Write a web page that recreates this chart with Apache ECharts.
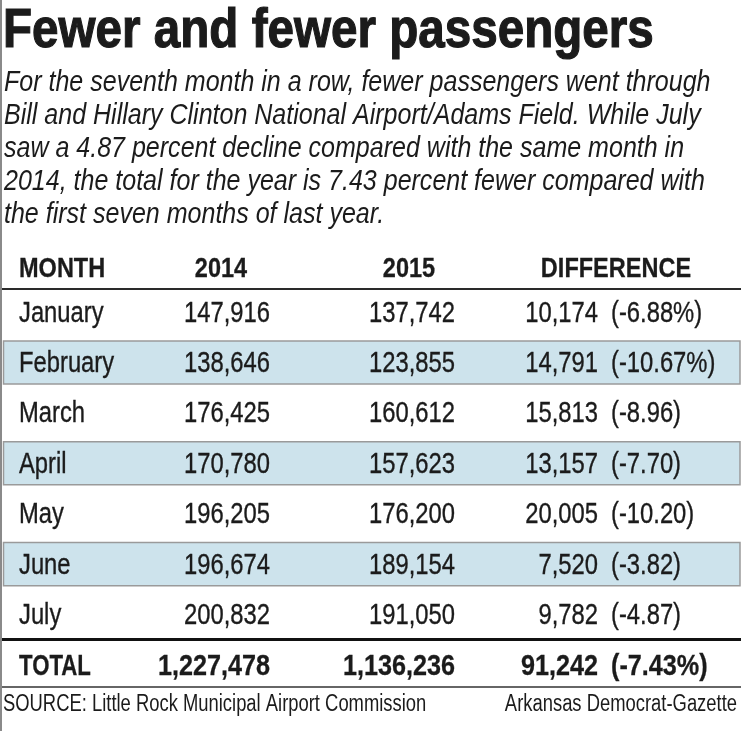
<!DOCTYPE html>
<html>
<head>
<meta charset="utf-8">
<script src="https://cdn.jsdelivr.net/npm/echarts@6/dist/echarts.min.js"></script>
<style>html,body{margin:0;padding:0;background:#fff}#c{width:751px;height:731px}</style>
</head>
<body>
<div id="c"></div>
<script>
// ---- data ----
var titleText = 'Fewer and fewer passengers';
var subtitleLines = [
  'For the seventh month in a row, fewer passengers went through',
  'Bill and Hillary Clinton National Airport/Adams Field. While July',
  'saw a 4.87 percent decline compared with the same month in',
  '2014, the total for the year is 7.43 percent fewer compared with',
  'the first seven months of last year.'
];
var headers = ['MONTH', '2014', '2015', 'DIFFERENCE'];
var months = ['January', 'February', 'March', 'April', 'May', 'June', 'July'];
var passengers2014 = [147916, 138646, 176425, 170780, 196205, 196674, 200832];
var passengers2015 = [137742, 123855, 160612, 157623, 176200, 189154, 191050];
var difference = [10174, 14791, 15813, 13157, 20005, 7520, 9782];
var diffPercent = ['(-6.88%)', '(-10.67%)', '(-8.96)', '(-7.70)', '(-10.20)', '(-3.82)', '(-4.87)'];
var totalLabel = 'TOTAL';
var total2014 = 1227478;
var total2015 = 1136236;
var totalDiff = 91242;
var totalPercent = '(-7.43%)';
var sourceText = 'SOURCE: Little Rock Municipal Airport Commission';
var creditText = 'Arkansas Democrat-Gazette';

// ---- layout / style ----
var FONT = '"Liberation Sans", Arial, Helvetica, sans-serif';
var INK = '#1b1b1b';
var STYLES = {
  body: { size: 29, weight: 'normal', sx: 0.82, sw: 0.35 },
  head: { size: 28, weight: 'bold', sx: 0.84, dy: 6, sw: 0.3 },
  total: { size: 30, weight: 'bold', sx: 0.84, sw: 0.3 },
  totalLabel: { size: 30, weight: 'bold', sx: 0.74, sw: 0.3 }
};
var COL = { month: 19, y14: 270, y15: 455, diff: 598, pct: 611 };
var HEADCOL = [19, 221, 409, 616];
var HEADALIGN = ['left', 'center', 'center', 'center'];
// distance from the top of a text line box to its baseline (Liberation Sans)
function topFor(baseline, size) { return baseline - 0.8465 * size; }

function fmt(n) { return n.toLocaleString('en-US'); }

var rowKeys = ['header'].concat(months, [totalLabel]);

var cells = [];
headers.forEach(function (h, i) { cells.push([HEADCOL[i], 0, h, HEADALIGN[i], 'head']); });
months.forEach(function (m, i) {
  var r = i + 1;
  cells.push([COL.month, r, m, 'left', 'body']);
  cells.push([COL.y14, r, fmt(passengers2014[i]), 'right', 'body']);
  cells.push([COL.y15, r, fmt(passengers2015[i]), 'right', 'body']);
  cells.push([COL.diff, r, fmt(difference[i]), 'right', 'body']);
  cells.push([COL.pct, r, diffPercent[i], 'left', 'body']);
});
var tr = months.length + 1;
cells.push([COL.month, tr, totalLabel, 'left', 'totalLabel']);
cells.push([COL.y14, tr, fmt(total2014), 'right', 'total']);
cells.push([COL.y15, tr, fmt(total2015), 'right', 'total']);
cells.push([COL.diff, tr, fmt(totalDiff), 'right', 'total']);
cells.push([COL.pct, tr, totalPercent, 'left', 'total']);

var bandRows = [];
months.forEach(function (m, i) { if (i % 2 === 1) bandRows.push([0, i + 1]); });

var chart = echarts.init(document.getElementById('c'), null, { renderer: 'canvas' });

var graphics = [
  { type: 'line', shape: { x1: 1, y1: 0, x2: 1, y2: 731 }, style: { stroke: '#8a8a8a', lineWidth: 2 } },
  { type: 'text', x: 3, y: topFor(51, 56), scaleX: 0.85, style: { text: titleText, fill: INK, stroke: INK, lineWidth: 1.2, fontFamily: FONT, fontWeight: 'bold', fontSize: 56, verticalAlign: 'top' } },
  { type: 'line', shape: { x1: 2, y1: 289, x2: 741, y2: 289 }, style: { stroke: '#2a2a2a', lineWidth: 2 } },
  { type: 'line', shape: { x1: 2, y1: 639.5, x2: 741, y2: 639.5 }, style: { stroke: '#111', lineWidth: 3 } },
  { type: 'line', shape: { x1: 2, y1: 687, x2: 741, y2: 687 }, style: { stroke: '#333', lineWidth: 1.5 } },
  { type: 'text', x: 3, y: topFor(713, 23), scaleX: 0.8, style: { text: sourceText, fill: INK, fontFamily: FONT, fontSize: 23, verticalAlign: 'top' } },
  { type: 'text', x: 737, y: topFor(713, 23), scaleX: 0.8, style: { text: creditText, fill: INK, fontFamily: FONT, fontSize: 23, textAlign: 'right', align: 'right', verticalAlign: 'top' } }
];
subtitleLines.forEach(function (t, i) {
  graphics.push({ type: 'text', x: 4, y: topFor(93 + i * 33, 30), scaleX: 0.834,
    style: { text: t, fill: INK, fontFamily: FONT, fontStyle: 'italic', fontSize: 30, verticalAlign: 'top' } });
});

chart.setOption({
  animation: false,
  backgroundColor: '#fff',
  graphic: graphics,
  grid: { left: 0, right: 0, top: 238, height: 453.6, containLabel: false },
  xAxis: { type: 'value', min: 0, max: 751, show: false },
  yAxis: { type: 'category', data: rowKeys, inverse: true, show: false },
  series: [
    {
      type: 'custom',
      z: 1,
      data: bandRows,
      encode: { x: 0, y: 1 },
      renderItem: function (params, api) {
        var c = api.coord([0, api.value(1)]);
        var bw = api.size([0, 1])[1];
        var h = bw * 0.855;
        return {
          type: 'rect',
          shape: { x: 3.5, y: c[1] - h / 2 - 1.5, width: 736.5, height: h },
          style: { fill: '#cde3ec', stroke: '#9a9a9a', lineWidth: 1.5 }
        };
      }
    },
    {
      type: 'custom',
      z: 2,
      data: cells.map(function (c) { return [c[0], c[1]]; }),
      encode: { x: 0, y: 1 },
      renderItem: function (params, api) {
        var cell = cells[params.dataIndex];
        var st = STYLES[cell[4]];
        var p = api.coord([api.value(0), api.value(1)]);
        return {
          type: 'text',
          x: p[0],
          y: p[1] + (st.dy || 0),
          scaleX: st.sx,
          style: {
            text: cell[2], x: 0, y: 0,
            fill: INK, stroke: INK, lineWidth: st.sw,
            fontFamily: FONT, fontSize: st.size, fontWeight: st.weight,
            textAlign: cell[3], align: cell[3], verticalAlign: 'middle'
          }
        };
      }
    }
  ]
});
</script>
</body>
</html>
